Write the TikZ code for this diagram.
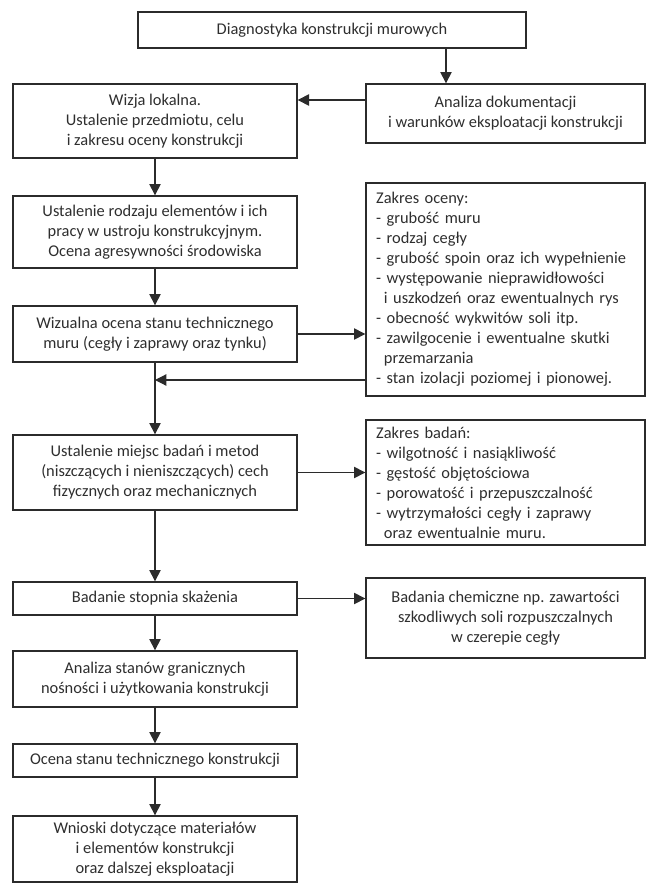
\documentclass[tikz,border=0pt]{standalone}
\usepackage{fontspec}
\setmainfont{Carlito}
\usetikzlibrary{arrows.meta}
\definecolor{linec}{HTML}{2B2B2B}
\definecolor{textc}{HTML}{2E2E2E}

\begin{document}
\begin{tikzpicture}[x=0.75pt,y=-0.75pt,
    box/.style={draw=linec, line width=1pt, align=center, inner sep=0pt,
      text=textc, font=\fontsize{12.3}{15}\selectfont, minimum width=213pt},
    listbox/.style={box, align=left, minimum width=209.25pt, text width=194pt},
    arr/.style={draw=linec, line width=0.9pt, -{Triangle[length=8.5pt,width=8.5pt]}}]
\useasboundingbox (0,0) rectangle (646,885);

\node[box, minimum width=291pt, minimum height=27pt] (diag) at (332,30) {Diagnostyka konstrukcji murowych};
\node[box, minimum width=209.25pt, minimum height=44.25pt] (analiza) at (505.5,113.5)
   {Analiza dokumentacji\\i warunków eksploatacji konstrukcji};
\node[box, minimum height=55.5pt] (wizja) at (155,121)
   {Wizja lokalna.\\Ustalenie przedmiotu, celu\\i zakresu oceny konstrukcji};
\node[box, minimum height=54pt] (rodzaj) at (155,232)
   {Ustalenie rodzaju elementów i ich\\pracy w ustroju konstrukcyjnym.\\Ocena agresywności środowiska};
\node[box, minimum height=42pt] (wizual) at (155,334)
   {Wizualna ocena stanu technicznego\\muru (cegły i zaprawy oraz tynku)};
\node[listbox, minimum height=159.75pt] (oceny) at (505.5,289.5)
   {Zakres oceny:\\- grubość muru\\- rodzaj cegły\\- grubość spoin oraz ich wypełnienie\\
    - występowanie nieprawidłowości\\\phantom{-}\,i uszkodzeń oraz ewentualnych rys\\
    - obecność wykwitów soli itp.\\- zawilgocenie i ewentualne skutki\\\phantom{-}\,przemarzania\\
    - stan izolacji poziomej i pionowej.};
\node[box, minimum height=56.25pt] (miejsc) at (155,472.5)
   {Ustalenie miejsc badań i metod\\(niszczących i nieniszczących) cech\\fizycznych oraz mechanicznych};
\node[listbox, minimum height=93.75pt] (badan) at (505.5,482.5)
   {Zakres badań:\\- wilgotność i nasiąkliwość\\- gęstość objętościowa\\- porowatość i przepuszczalność\\
    - wytrzymałości cegły i zaprawy\\\phantom{-}\,oraz ewentualnie muru.};
\node[box, minimum height=24.75pt] (skaz) at (155,598.5) {Badanie stopnia skażenia};
\node[box, minimum width=209.25pt, minimum height=60pt] (chem) at (505.5,618)
   {Badania chemiczne np. zawartości\\szkodliwych soli rozpuszczalnych\\w czerepie cegły};
\node[box, minimum height=42pt] (stany) at (155,679)
   {Analiza stanów granicznych\\nośności i użytkowania konstrukcji};
\node[box, minimum height=24.75pt] (ocena) at (155,760.5) {Ocena stanu technicznego konstrukcji};
\node[box, minimum height=49.5pt] (wnioski) at (155,849)
   {Wnioski dotyczące materiałów\\i elementów konstrukcji\\oraz dalszej eksploatacji};

\coordinate (d1) at (446,48);
\draw[arr] (d1) -- (d1 |- analiza.north);
\draw[arr] (analiza.west |- 0,100) -- (wizja.east |- 0,100);
\foreach \a/\b in {wizja/rodzaj, rodzaj/wizual, wizual/miejsc, miejsc/skaz, skaz/stany, stany/ocena, ocena/wnioski}
   \draw[arr] (\a) -- (\b);
\foreach \a/\b in {wizual/oceny, miejsc/badan, skaz/chem}
   \draw[arr] (\a.east) -- (\a.east -| \b.west);
\draw[arr] (oceny.west |- 0,380) -- (wizual.south |- 0,380);
\end{tikzpicture}
\end{document}
